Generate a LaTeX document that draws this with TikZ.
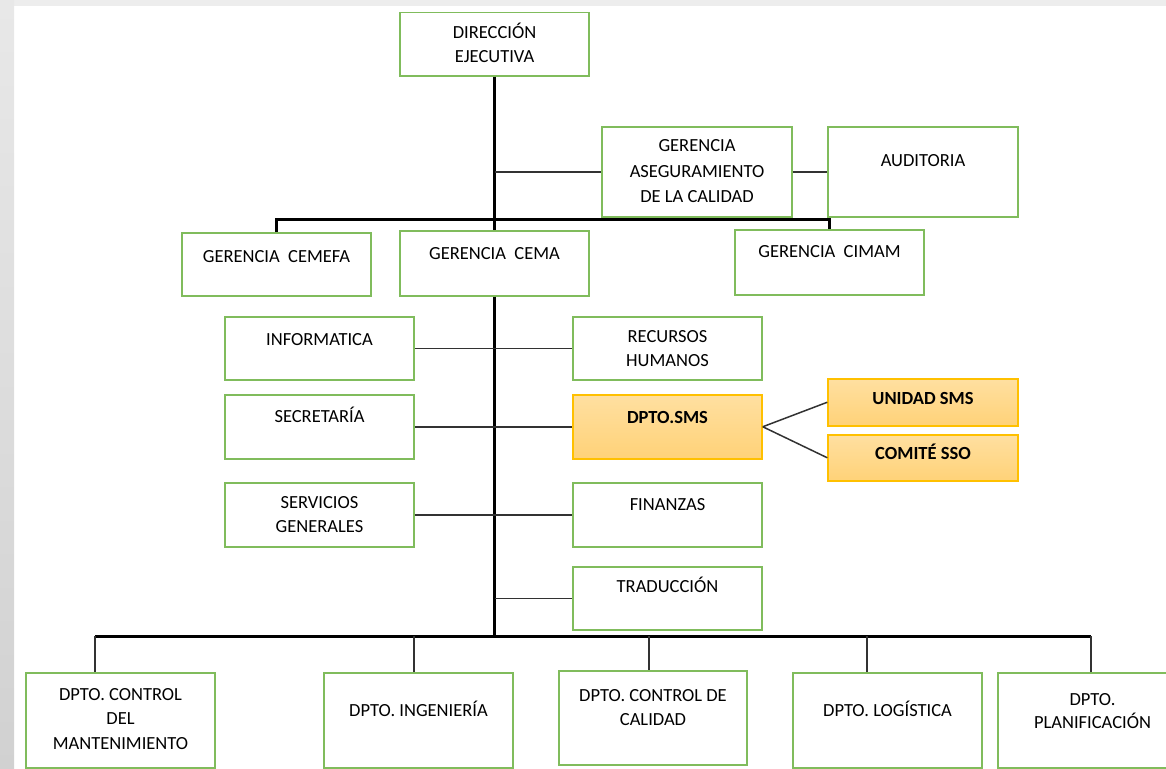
\documentclass[tikz,border=0pt]{standalone}
\usepackage{fontspec}
\setmainfont{Carlito}
\usetikzlibrary{positioning}
\definecolor{boxgreen}{RGB}{128,188,92}
\definecolor{smsfill}{RGB}{255,210,120}
\definecolor{smsedge}{RGB}{255,192,0}
\definecolor{wirec}{RGB}{50,50,50}

\begin{document}
\begin{tikzpicture}
[x=1pt,y=-1pt,
 box/.style={draw=boxgreen,line width=1.5pt,fill=white,minimum width=189pt,inner xsep=2pt,inner ysep=0pt,
             text height=12pt,align=center,anchor=north,font=\fontsize{18.5}{24}\selectfont},
 sms/.style={box,draw=smsedge,top color=smsfill!70!white,bottom color=smsfill,font=\fontsize{18.5}{24}\selectfont\bfseries},
 trunk/.style={line width=3pt,black},
 link/.style={line width=1.5pt,wirec}]
\useasboundingbox (0,0) rectangle (1166,768);
\fill[black!7] (0,0) rectangle (1166,6);
\shade[top color=black!9,bottom color=black!18] (0,0) rectangle (14,768);

% top of the chart
\node[box,minimum height=63pt,text height=36pt,text depth=-3pt] (dir) at (494.5,12) {DIRECCIÓN\\EJECUTIVA};
\node[box,minimum height=90pt,minimum width=190pt,text height=63pt,text depth=1pt,font=\fontsize{18.5}{25.5}\selectfont] (aseg) at (697,126) {GERENCIA\\ASEGURAMIENTO\\DE LA CALIDAD};
\node[box,minimum height=90pt,minimum width=190pt,text depth=22pt] (audit) [right=34.5pt of aseg] {AUDITORIA};
\node[box,minimum height=63pt,text depth=15pt] (cemefa) at (276.5,232) {GERENCIA~ CEMEFA};
\node[box,minimum height=65pt,text depth=19pt] (cema)   at (494.5,230) {GERENCIA~ CEMA};
\node[box,minimum height=65pt,text depth=21pt] (cimam)  at (829.5,229) {GERENCIA~ CIMAM};

% units under CEMA
\node[box,minimum height=63pt,text depth=17pt] (info)  at (319.5,316)          {INFORMATICA};
\node[box,minimum height=64pt,text depth=20pt] (secre) [below=13.5pt of info]  {SECRETARÍA};
\node[box,minimum height=64pt,text height=36pt,text depth=0pt] (serv)  [below=22.5pt of secre] {SERVICIOS\\GENERALES};
\node[box,minimum height=63pt,text height=36pt,text depth=-1pt] (rrhh)  [right=157.5pt of info] {RECURSOS\\HUMANOS};
\node[sms,minimum height=64pt,text depth=18pt] (dsms)  [right=157.5pt of secre] {DPTO.SMS};
\node[box,minimum height=64pt,text depth=20pt] (fin)   [right=157.5pt of serv] {FINANZAS};
\node[box,minimum height=63pt,text depth=23pt] (trad)  [below=18.5pt of fin]   {TRADUCCIÓN};
\node[sms,minimum height=47pt,minimum width=190pt,text depth=7pt] (unidad) at (923,378) {UNIDAD SMS};
\node[sms,minimum height=46pt,minimum width=190pt,text depth=8pt] (comite) [below=7.5pt of unidad] {COMITÉ SSO};

% departments
\node[box,minimum height=95pt,text height=61pt,text depth=3pt,font=\fontsize{18.5}{24.5}\selectfont] (mant) at (120.5,672) {DPTO. CONTROL\\DEL\\MANTENIMIENTO};
\node[box,minimum height=95pt,text depth=19pt] (ing)  at (418.5,672) {DPTO. INGENIERÍA};
\node[box,minimum height=94pt,minimum width=188pt,text height=36pt,text depth=20pt] (cal) at (653,670) {DPTO. CONTROL DE\\CALIDAD};
\node[box,minimum height=95pt,text depth=19pt] (log)  at (887.5,672) {DPTO. LOGÍSTICA};
\node[box,minimum height=95pt,text height=35pt,text depth=18pt,font=\fontsize{18.5}{23}\selectfont] (plan) at (1092.5,672) {DPTO.\\PLANIFICACIÓN};

\coordinate (busT) at (494.5,219);
\coordinate (busB) at (494.5,636);
\coordinate (dA) at (95,636);
\coordinate (dB) at (414,636);
\coordinate (dC) at (649,636);
\coordinate (dD) at (867,636);
\coordinate (dE) at (1091,636);

\draw[trunk] (dir) -- (cema);
\draw[trunk] (cema) -- (busB);
\draw[trunk] (cemefa.north) -- (cemefa.north |- busT) -- (cimam.north |- busT) -- (cimam.north);
\draw[link] (busT |- aseg.west) -- (aseg.west);
\draw[link] (aseg) -- (audit);
\draw[link] (info) -- (rrhh);
\draw[link] (secre) -- (dsms);
\draw[link] (serv.east) -- (serv.east -| fin.west);
\draw[link] (busB |- trad.west) -- (trad.west);
\draw[link] (dsms.east) -- (unidad.west);
\draw[link] (dsms.east) -- (comite.west);

\draw[trunk] (dA) -- (dE);
\draw[link] (dA) -- (dA |- mant.north);
\draw[link] (dB) -- (dB |- ing.north);
\draw[link] (dC) -- (dC |- cal.north);
\draw[link] (dD) -- (dD |- log.north);
\draw[link] (dE) -- (dE |- plan.north);
\end{tikzpicture}
\end{document}
